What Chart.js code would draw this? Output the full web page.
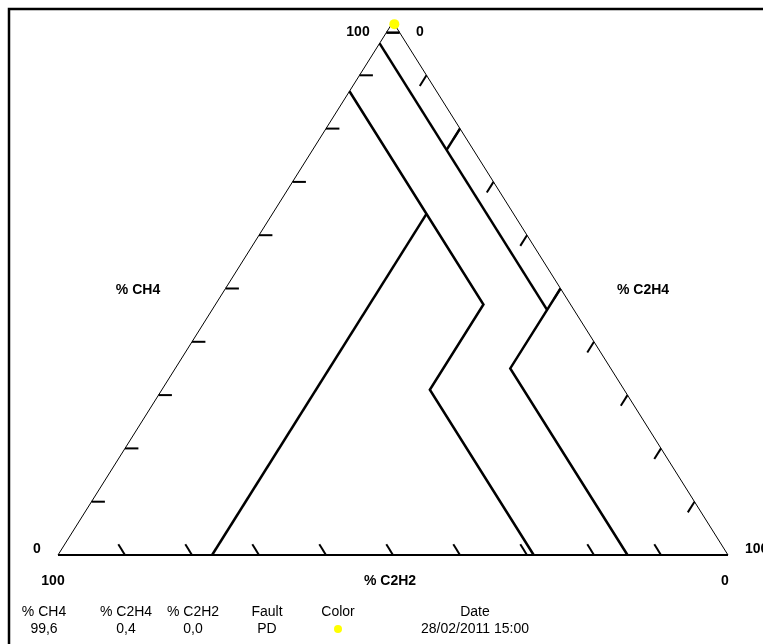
<!DOCTYPE html>
<html>
<head>
<meta charset="utf-8">
<script src="https://cdn.jsdelivr.net/npm/chart.js@4"></script>
<style>
  body { margin: 0; background: #fff; }
  canvas { display: block; }
</style>
</head>
<body>
<canvas id="duval" width="763" height="644"></canvas>
<script>
// composition triples are [CH4, C2H4, C2H2] in %
var tickValues = [10, 20, 30, 40, 50, 60, 70, 80, 90];

var pdLine = [[98, 0, 2], [98, 2, 0]];
var t1Line = [[96, 0, 4], [46, 50, 4]];
var t2Line = [[80, 20, 0], [76, 20, 4]];
var t3Line = [[50, 50, 0], [46, 50, 4], [35, 50, 15], [0, 85, 15]];
var d2Line = [[87, 0, 13], [47, 40, 13], [31, 40, 29], [0, 71, 29]];
var d1Line = [[64, 23, 13], [0, 23, 77]];

var sampleCH4 = [99.6];
var sampleC2H4 = [0.4];
var sampleC2H2 = [0.0];
var sampleFault = ['PD'];
var sampleDate = ['28/02/2011 15:00'];
var sampleColor = '#ffff00';

function toXY(p) {
    // p = [ch4, c2h4, c2h2]
    return { x: p[1] + p[0] / 2, y: p[0] };
}

function lineSet(points, width) {
    return {
        data: points.map(toXY),
        showLine: true,
        borderColor: '#000',
        borderWidth: width,
        pointRadius: 0,
        fill: false,
        tension: 0,
        borderJoinStyle: 'miter',
        borderCapStyle: 'butt'
    };
}

var datasets = [];

// the sample point, first so it is drawn on top
datasets.push({
    data: sampleCH4.map(function (c, i) { return toXY([c, sampleC2H4[i], sampleC2H2[i]]); }),
    pointRadius: 5,
    pointBackgroundColor: sampleColor,
    pointBorderWidth: 0,
    showLine: false
});

[pdLine, t1Line, t2Line, t3Line, d2Line, d1Line].forEach(function (l) {
    datasets.push(lineSet(l, 2.5));
});

// triangle sides
datasets.push(lineSet([[0, 0, 100], [100, 0, 0]], 1));
datasets.push(lineSet([[100, 0, 0], [0, 100, 0]], 1));
datasets.push(lineSet([[0, 0, 100], [0, 100, 0]], 2));

// tick marks, 2 % long, pointing inwards
tickValues.forEach(function (t) {
    datasets.push(lineSet([[t, 0, 100 - t], [t, 2, 98 - t]], 2));
    datasets.push(lineSet([[100 - t, t, 0], [98 - t, t, 2]], 2));
    datasets.push(lineSet([[0, 100 - t, t], [2, 98 - t, t]], 2));
});

var labelsPlugin = {
    id: 'duvalText',
    afterDraw: function (chart) {
        var ctx = chart.ctx;
        ctx.save();
        ctx.strokeStyle = '#000';
        ctx.lineWidth = 2.5;
        ctx.strokeRect(9, 9, 800, 700);

        ctx.fillStyle = '#000';
        ctx.textBaseline = 'middle';
        ctx.textAlign = 'center';
        ctx.font = 'bold 14px "Liberation Sans", Arial, sans-serif';
        ctx.fillText('100', 358, 32);
        ctx.fillText('0', 420, 32);
        ctx.fillText('% CH4', 138, 290);
        ctx.fillText('% C2H4', 643, 290);
        ctx.fillText('0', 37, 549);
        ctx.fillText('100', 53, 581);
        ctx.fillText('% C2H2', 390, 581);
        ctx.fillText('0', 725, 581);
        ctx.textAlign = 'left';
        ctx.fillText('100', 745, 549);

        ctx.textAlign = 'center';
        ctx.font = '14px "Liberation Sans", Arial, sans-serif';
        var cols = [44, 126, 193, 267, 338, 475];
        var head = ['% CH4', '% C2H4', '% C2H2', 'Fault', 'Color', 'Date'];
        head.forEach(function (h, i) { ctx.fillText(h, cols[i], 612); });
        ctx.fillText(sampleCH4[0].toFixed(1).replace('.', ','), cols[0], 629);
        ctx.fillText(sampleC2H4[0].toFixed(1).replace('.', ','), cols[1], 629);
        ctx.fillText(sampleC2H2[0].toFixed(1).replace('.', ','), cols[2], 629);
        ctx.fillText(sampleFault[0], cols[3], 629);
        ctx.fillText(sampleDate[0], cols[5], 629);
        ctx.fillStyle = sampleColor;
        ctx.beginPath();
        ctx.arc(cols[4], 629, 4, 0, Math.PI * 2);
        ctx.fill();
        ctx.restore();
    }
};

var chart = new Chart(document.getElementById('duval'), {
    type: 'scatter',
    data: { datasets: datasets },
    options: {
        responsive: false,
        animation: false,
        events: [],
        layout: { padding: 0, autoPadding: false },
        plugins: { legend: { display: false }, tooltip: { enabled: false } },
        scales: {
            x: { type: 'linear', display: false, min: -58 / 6.7, max: (763 - 58) / 6.7 },
            y: { type: 'linear', display: false, min: -(644 - 555) / 5.33, max: 555 / 5.33 }
        }
    },
    plugins: [labelsPlugin]
});
</script>
</body>
</html>
